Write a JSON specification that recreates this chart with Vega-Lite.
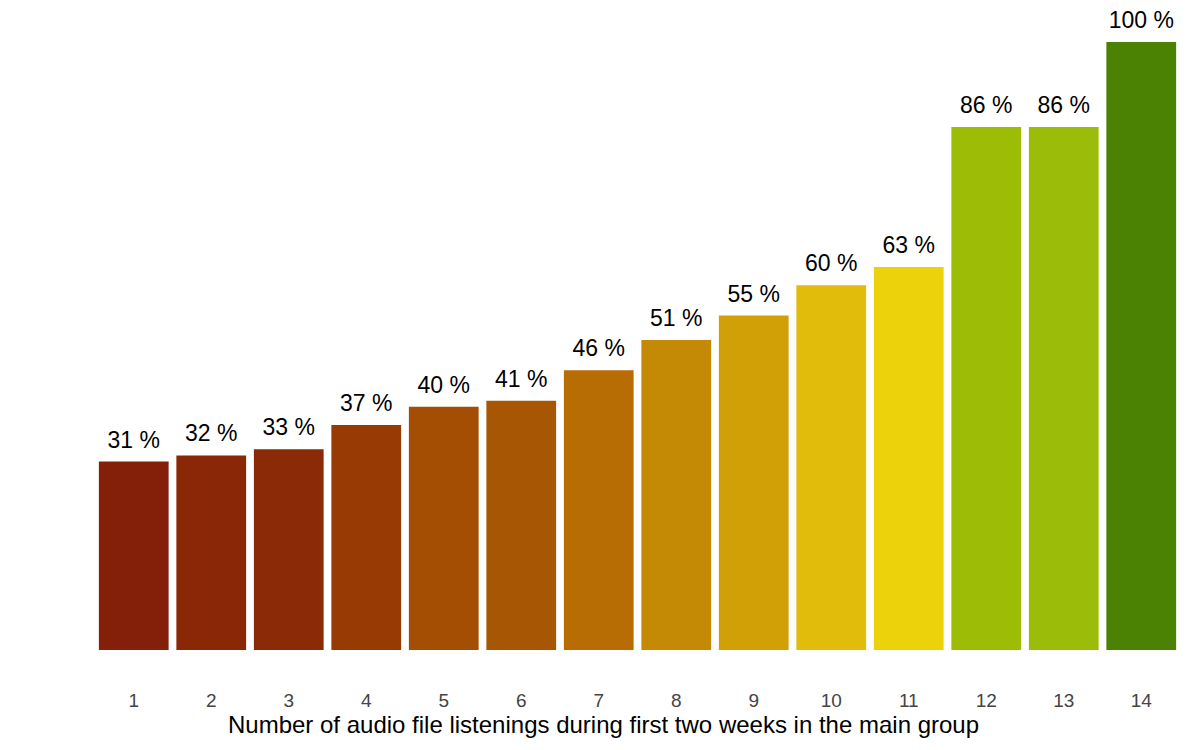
{
  "$schema": "https://vega.github.io/schema/vega-lite/v6.json",
  "width": 1085,
  "height": 608,
  "autosize": {"type": "none"},
  "padding": {"left": 95, "top": 42, "right": 20, "bottom": 100},
  "background": "white",
  "data": {
    "values": [
      {"n": "1", "pct": 31},
      {"n": "2", "pct": 32},
      {"n": "3", "pct": 33},
      {"n": "4", "pct": 37},
      {"n": "5", "pct": 40},
      {"n": "6", "pct": 41},
      {"n": "7", "pct": 46},
      {"n": "8", "pct": 51},
      {"n": "9", "pct": 55},
      {"n": "10", "pct": 60},
      {"n": "11", "pct": 63},
      {"n": "12", "pct": 86},
      {"n": "13", "pct": 86},
      {"n": "14", "pct": 100}
    ]
  },
  "transform": [{"calculate": "datum.pct + ' %'", "as": "label"}],
  "encoding": {
    "x": {
      "field": "n",
      "type": "ordinal",
      "sort": null,
      "scale": {"paddingInner": 0.1, "paddingOuter": 0.05},
      "title": "Number of audio file listenings during first two weeks in the main group",
      "axis": {
        "labelAngle": 0,
        "domain": false,
        "ticks": false,
        "labelPadding": 41,
        "labelFontSize": 19,
        "labelColor": "#444444",
        "labelFont": "Liberation Sans",
        "titleFont": "Liberation Sans",
        "titleFontSize": 24,
        "titleFontWeight": "normal",
        "titleColor": "#000000",
        "titlePadding": 3,
        "titleX": 508
      }
    },
    "y": {
      "field": "pct",
      "type": "quantitative",
      "scale": {"domain": [0, 100], "nice": false},
      "axis": null
    }
  },
  "layer": [
    {
      "mark": {"type": "bar"},
      "encoding": {
        "color": {
          "field": "n",
          "type": "ordinal",
          "sort": null,
          "scale": {
            "domain": ["1", "2", "3", "4", "5", "6", "7", "8", "9", "10", "11", "12", "13", "14"],
            "range": ["#84200A", "#8A2706", "#8B2A06", "#983A04", "#A44E03", "#A75603", "#B76D04", "#C48905", "#D19F06", "#E1BC0A", "#ECD20A", "#9CBC06", "#9CBC0A", "#4B8203"]
          },
          "legend": null
        }
      }
    },
    {
      "mark": {
        "type": "text",
        "baseline": "bottom",
        "dy": -9,
        "fontSize": 23,
        "font": "Liberation Sans",
        "color": "#000000"
      },
      "encoding": {"text": {"field": "label"}}
    }
  ],
  "config": {"view": {"stroke": null}}
}
